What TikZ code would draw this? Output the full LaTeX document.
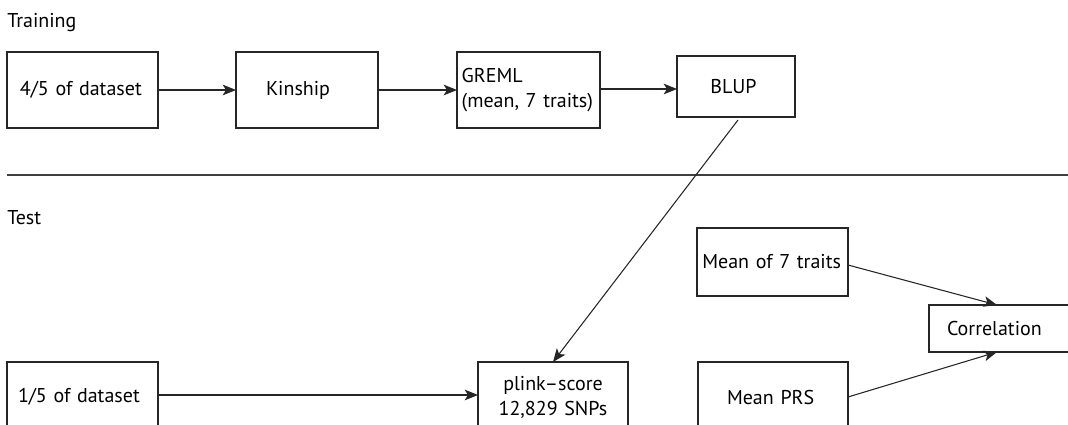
\documentclass[tikz,border=0pt]{standalone}
\usepackage{fontspec}
\setmainfont{PT Sans}
\usetikzlibrary{arrows.meta,calc}
\begin{document}
\begin{tikzpicture}[x=0.75pt,y=-0.75pt,
  box/.style={draw=black!85,line width=0.8pt,inner ysep=0pt,outer sep=0pt,font=\fontsize{15}{18.75}\selectfont},
  lbl/.style={inner sep=0pt,anchor=base west,font=\fontsize{15}{18.75}\selectfont},
  conn/.style={draw=black!85,line width=0.8pt,-{Stealth[length=10pt,width=8pt,inset=2.5pt]}},
  sep/.style={draw=black!75,line width=0.8pt}]
\useasboundingbox (0,0) rectangle (1068,425);
\clip (0,0) rectangle (1068,425);
\node[lbl] (train) at (7,27) {Training};
\node[lbl] (test) at (7,224) {Test};
% training row
\node[box,minimum width=113.25pt,minimum height=57pt,inner xsep=9.75pt,text width=93.75pt,align=left] (b1) at (82.5,90) {4/5 of dataset};
\node[box,minimum width=106.5pt,minimum height=57pt,inner xsep=22.5pt,text width=61.5pt,align=left] (b2) at (307,90) {Kinship};
\node[box,minimum width=107.25pt,minimum height=57pt,inner xsep=3.5pt,text width=100.25pt,align=left] (b3) at (528.5,90) {GREML\\(mean, 7 traits)};
\node[box,minimum width=88.5pt,minimum height=45.75pt,inner xsep=25pt,text width=38.5pt,align=left] (b4) at (736,86.5) {BLUP};
% separator
\coordinate (s1) at (7,175);
\coordinate (s2) at (1080,175);
\draw[sep] (s1) -- (s2);
% test row
\node[box,minimum width=113.25pt,minimum height=52.5pt,inner xsep=8.25pt,text width=96.75pt,align=left] (t1) at (82.5,397) {1/5 of dataset};
\node[box,minimum width=112.5pt,minimum height=52.5pt,inner xsep=3pt,text width=106.5pt,align=center] (pl) at (553,397) {plink--score\\12,829 SNPs};
\node[box,minimum width=113.25pt,minimum height=51pt,inner xsep=4pt,text width=105.25pt,align=left] (m7) at (772.5,262) {Mean of 7 traits};
\node[box,minimum width=112.5pt,minimum height=52.5pt,inner xsep=21.75pt,text width=69pt,align=left] (prs) at (773,397) {Mean PRS};
\node[box,minimum width=111pt,minimum height=35.25pt,inner xsep=13.5pt,text width=84pt,align=left] (corr) at (1003,328.5) {Correlation};
% connectors
\draw[conn] (b1.east) -- (b2.west);
\draw[conn] (b2.east) -- (b3.west);
\draw[conn] (b3.east |- 0,89) -- (b4.west |- 0,89);
\draw[conn] ([xshift=1.5pt,yshift=-2.25pt]b4.south) -- (pl.north);
\draw[conn] (t1.east |- 0,395) -- (pl.west |- 0,395);
\draw[conn] (m7.east |- 0,265) -- ([xshift=51pt]corr.north west);
\draw[conn] (prs.east) -- ([xshift=51pt]corr.south west);
\end{tikzpicture}
\end{document}
